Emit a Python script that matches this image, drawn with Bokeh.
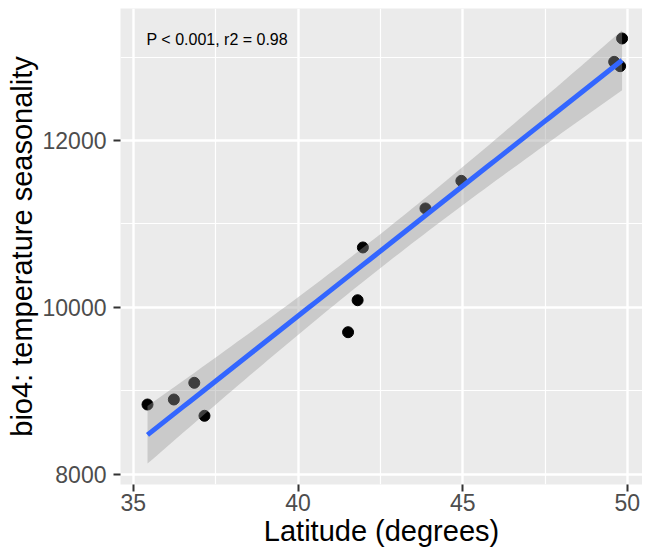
import numpy as np
from bokeh.plotting import figure
from bokeh.models import FixedTicker, Label
from bokeh.embed import file_html
from bokeh.resources import INLINE

# Data
latitude = [35.43, 36.23, 36.85, 37.16, 41.52, 41.81, 41.97, 43.87, 44.96, 49.60, 49.78, 49.84]
bio4 = [8838, 8898, 9098, 8703, 9704, 10087, 10719, 11186, 11517, 12942, 12890, 13222]
x_ticks = [35, 40, 45, 50]
x_minor = [32.5, 37.5, 42.5, 47.5, 52.5]
y_ticks = [8000, 10000, 12000]
y_minor = [7000, 9000, 11000, 13000]
annotation_text = "P < 0.001, r2 = 0.98"
x_title = "Latitude (degrees)"
y_title = "bio4: temperature seasonality"

# Linear fit with 95% confidence band (as geom_smooth(method="lm"))
x = np.array(latitude, dtype=float)
y = np.array(bio4, dtype=float)
n = len(x)
slope, intercept = np.polyfit(x, y, 1)
resid = y - (slope * x + intercept)
s = np.sqrt(np.sum(resid ** 2) / (n - 2))
t_crit = 2.228  # t(0.975, df=10)
xs = np.linspace(x.min(), x.max(), 80)
fit = slope * xs + intercept
se = s * np.sqrt(1.0 / n + (xs - x.mean()) ** 2 / np.sum((x - x.mean()) ** 2))
lower = fit - t_crit * se
upper = fit + t_crit * se

FONT = "Liberation Sans"

p = figure(width=642, height=549, x_range=(34.61, 50.46), y_range=(7880, 13581),
           output_backend="svg", toolbar_location=None)
p.background_fill_color = "#EBEBEB"
p.border_fill_color = "white"
p.outline_line_color = None
p.min_border_left = 120
p.min_border_top = 8
p.min_border_right = 0
p.min_border_bottom = 0

p.xaxis.ticker = FixedTicker(ticks=x_ticks, minor_ticks=x_minor)
p.yaxis.ticker = FixedTicker(ticks=y_ticks, minor_ticks=y_minor)

for g in (p.xgrid[0], p.ygrid[0]):
    g.grid_line_color = "white"
    g.grid_line_width = 2.4
    g.minor_grid_line_color = "white"
    g.minor_grid_line_width = 1.2

for ax in (p.xaxis[0], p.yaxis[0]):
    ax.axis_line_color = None
    ax.major_tick_line_color = "#333333"
    ax.major_tick_line_width = 2
    ax.major_tick_out = 7
    ax.major_tick_in = 0
    ax.minor_tick_line_color = None
    ax.major_label_text_font = FONT
    ax.major_label_text_font_size = "23px"
    ax.major_label_text_color = "#4D4D4D"
    ax.axis_label_text_font = FONT
    ax.axis_label_text_font_size = "29px"
    ax.axis_label_text_font_style = "normal"
    ax.axis_label_text_color = "black"

p.xaxis.axis_label = x_title
p.yaxis.axis_label = y_title
p.xaxis.major_label_standoff = 2
p.yaxis.major_label_standoff = 7
p.xaxis.axis_label_standoff = 1
p.yaxis.axis_label_standoff = 2

# points, then ribbon, then fit line (ggplot layer order)
p.scatter(latitude, bio4, size=11, color="black")
p.varea(x=xs, y1=lower, y2=upper, fill_color="#999999", fill_alpha=0.4)
p.line(xs, fit, line_color="#3366FF", line_width=5)

p.add_layout(Label(x=35.4, y=13210, text=annotation_text, text_font=FONT,
                   text_font_size="16px", text_baseline="middle", text_align="left",
                   text_color="black"))

open("out.html", "w").write(file_html(p, INLINE))
